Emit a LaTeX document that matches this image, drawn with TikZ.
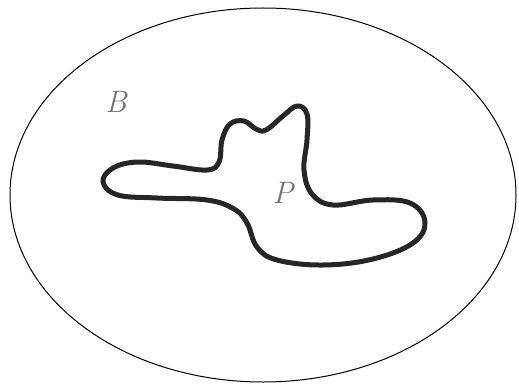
\documentclass[tikz,border=0pt]{standalone}
\usepackage{tikz}
\usetikzlibrary{shapes.geometric}
\begin{document}
\begin{tikzpicture}[x=1pt,y=-1pt,
  lbl/.style={text=black!55, font=\fontsize{31}{33}\selectfont\itshape, inner sep=0pt},
  blobline/.style={line width=5pt, black!85, line join=round}]
\useasboundingbox (0,0) rectangle (519,385);
\node[draw, line width=1pt, ellipse, minimum width=506pt, minimum height=374pt, inner sep=0pt] (B) at (263,195) {};
\draw[blobline] plot[smooth cycle, tension=0.65] coordinates {
 (103,182) (113,168) (138,162) (173,166) (207,170) (219,162) (222,140) (230,124)
 (244,121) (256,129) (266,130) (283,116) (297,106) (307,114) (307,140) (304,170)
 (312,194) (333,205) (373,200) (410,203) (425,222) (413,243) (373,259)
 (323,265) (277,260) (257,247) (247,223) (234,209) (207,200) (157,198) (118,195)};
\node[lbl] (lb) at (116,102) {B};
\node[lbl] (lp) at (283,193) {P};
\end{tikzpicture}
\end{document}
